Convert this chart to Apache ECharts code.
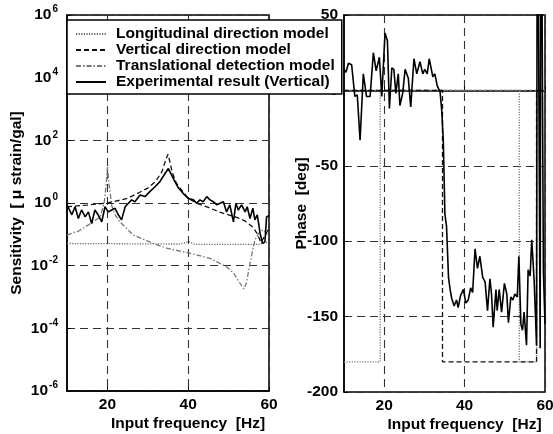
<!DOCTYPE html>
<html>
<head>
<meta charset="utf-8">
<script src="https://cdn.jsdelivr.net/npm/echarts@6/dist/echarts.min.js"></script>
<style>
  html, body { margin: 0; padding: 0; background: #fff; }
  #chart { width: 553px; height: 434px; }
</style>
</head>
<body>
<div id="chart"></div>
<script>
const FONT = '"Liberation Sans", Arial, Helvetica, sans-serif';

// Sensitivity curves: [input frequency (Hz), sensitivity (μstrain/gal)]
const longGain = [[10, 0.051], [38, 0.049], [40.2, 0.059], [41.6, 0.048], [57.5, 0.048], [60, 0.058]];
const vertGain = [[10, 0.76], [15, 0.86], [20, 1.0], [25, 1.4], [28, 2.2], [30, 3.0], [32, 5.0], [33.5, 10],
  [34.5, 25], [35, 36], [35.5, 20], [36, 10], [37, 4.5], [38, 3.0], [40, 1.4], [42, 1.0], [45, 0.72],
  [48, 0.5], [50, 0.42], [52, 0.35], [54, 0.27], [56, 0.17], [57, 0.11], [58, 0.055], [59, 0.09], [60, 0.16]];
const transGain = [[10, 0.095], [13, 0.13], [16.5, 0.25], [18.2, 0.36], [19.2, 1.0], [19.7, 4], [20, 14],
  [20.4, 4], [21.1, 0.8], [22, 0.4], [23.1, 0.25], [26.4, 0.095], [31.4, 0.051], [34.7, 0.036],
  [40.4, 0.025], [45.4, 0.017], [49.5, 0.0093], [51.2, 0.0058], [52.8, 0.0028], [53.8, 0.0018],
  [54.4, 0.0028], [55.3, 0.012], [56.5, 0.066], [57.5, 0.11], [58.6, 0.14], [59.3, 0.11], [60, 0.076]];
const expGain = [[10, 0.87], [11.2, 0.42], [12.0, 0.76], [12.8, 0.32], [13.6, 0.60], [14.5, 0.36],
  [15.3, 0.52], [16.1, 0.22], [16.9, 0.60], [17.7, 0.42], [18.6, 0.25], [19.4, 0.76], [20.2, 0.52],
  [21.1, 0.60], [21.9, 0.68], [22.7, 0.42], [23.5, 0.29], [24.4, 0.76], [25.2, 0.98], [26.0, 1.26],
  [26.8, 1.1], [28.1, 1.8], [29.3, 1.6], [30.5, 2.3], [31.8, 3.3], [33.0, 4.8], [34.3, 8.9], [35.1, 12.6],
  [35.9, 7.8], [36.7, 4.8], [37.6, 3.0], [38.8, 2.0], [40.0, 1.4], [41.3, 1.26], [42.1, 0.98], [42.9, 1.26],
  [43.7, 1.1], [44.6, 1.6], [45.4, 1.26], [46.2, 1.1], [47.1, 0.87], [47.9, 0.98], [48.7, 1.1], [49.5, 0.52],
  [50.3, 0.87], [51.2, 0.25], [51.8, 0.98], [52.4, 0.6], [53.2, 0.87], [54.1, 0.52], [54.6, 0.76],
  [55.3, 0.32], [56.0, 0.68], [56.5, 0.29], [57.1, 0.42], [57.8, 0.107], [58.4, 0.051], [59.0, 0.059],
  [59.4, 0.36], [59.8, 0.32], [60, 0.4]];

// Phase curves: [input frequency (Hz), phase (deg)]
const longPhase = [[10, 0], [60, 0]];
const vertPhase = [[10, 0], [34.5, 0], [34.5, -180], [57.9, -180], [57.9, 0], [60, 0]];
const transPhase = [[10, -180], [19, -180], [19, 0], [53.6, 0], [53.6, -180], [57.9, -180], [57.9, 0], [60, 0]];
const expPhase = [[10, 14], [10.5, 12], [11.1, 18], [11.9, 17], [12.7, -4], [13.3, -3], [14.0, -33],
  [14.8, 11], [15.6, -4], [16.5, -4], [17.3, 25], [18.0, 13], [18.8, 22], [19.4, -4], [20.2, 38],
  [20.8, 33], [21.3, -12], [21.9, 15], [22.4, 14], [22.9, -2], [23.5, 11], [23.9, -10], [24.6, -2],
  [25.2, 14], [26.0, 8], [26.6, -11], [27.4, 21], [28.1, 11], [28.9, 19], [29.6, 11], [30.1, 14],
  [30.7, 11], [31.2, 21], [32.1, 9], [32.6, 11], [33.2, 3], [33.9, -1], [34.3, -13], [34.7, -33],
  [35.1, -82], [35.5, -90], [36.0, -124], [36.4, -132], [36.8, -138], [37.4, -143], [38.0, -139],
  [38.4, -144], [39.0, -136], [39.7, -132], [40.3, -141], [40.9, -139], [41.5, -131], [42.0, -134],
  [42.6, -105], [43.2, -118], [43.8, -110], [44.5, -124], [45.1, -127], [45.7, -146], [46.3, -125],
  [46.7, -135], [47.1, -157], [47.8, -132], [48.1, -146], [48.6, -132], [49.2, -147], [49.9, -128],
  [50.5, -135], [50.9, -154], [51.5, -137], [52.0, -139], [52.5, -135], [53.1, -137], [53.5, -110],
  [54.0, -155], [54.4, -159], [54.8, -147], [55.4, -169], [55.8, -119], [56.3, -123], [56.7, -99],
  [57.3, -126], [57.9, -169], [58.1, 200], [58.3, 200], [58.8, -171], [59.0, 200], [59.2, 200],
  [59.6, -120], [60, -155]];

// Tick positions
const freqTicks = [20, 40, 60];
const gainTicks = [1e-6, 1e-4, 1e-2, 1, 1e2, 1e4, 1e6];

const NAMES = ['Longitudinal direction model', 'Vertical direction model',
  'Translational detection model', 'Experimental result (Vertical)'];

const STYLE = {
  long:  { color: '#666', width: 1.3, type: [1.2, 1.4] },
  vert:  { color: '#111', width: 1.3, type: [5, 3] },
  trans: { color: '#777', width: 1.3, type: [5, 2, 1.5, 2] },
  exp:   { color: '#000', width: 1.6, type: 'solid' }
};

const FS = 15.5;
const bold = { fontFamily: FONT, fontWeight: 'bold', color: '#000' };
const gridDash = { color: '#333', width: 1.1, type: [8, 5] };

function freqAxis(gridIndex) {
  return {
    type: 'value', gridIndex, min: 10, max: 60, interval: 10,
    axisLine: { show: true, lineStyle: { color: '#000', width: 1.5 } },
    axisTick: { inside: true, length: 4, customValues: freqTicks, lineStyle: { color: '#000' } },
    axisLabel: { customValues: freqTicks, fontSize: FS, margin: 6, ...bold },
    splitLine: { show: true, lineStyle: gridDash },
    name: 'Input frequency  [Hz]', nameLocation: 'middle', nameGap: 25, nameMoveOverlap: false,
    nameTextStyle: { fontSize: FS, padding: [0, 0, 0, 40], ...bold }
  };
}

function line(name, data, style, xi, yi, z) {
  return {
    name, type: 'line', data, xAxisIndex: xi, yAxisIndex: yi,
    showSymbol: false, symbol: 'none', lineStyle: style, itemStyle: { color: style.color },
    z, animation: false, clip: true
  };
}

const gridBase = { show: true, borderColor: '#000', borderWidth: 1.5, backgroundColor: 'transparent',
  containLabel: false, outerBoundsMode: 'none' };

const chart = echarts.init(document.getElementById('chart'), null, { renderer: 'canvas' });
chart.setOption({
  backgroundColor: '#fff',
  animation: false,
  grid: [
    { ...gridBase, left: 67, top: 15, width: 202, height: 376 },
    { ...gridBase, left: 344, top: 15, width: 201, height: 377 }
  ],
  xAxis: [freqAxis(0), freqAxis(1)],
  yAxis: [
    {
      type: 'log', gridIndex: 0, logBase: 10, min: 1e-6, max: 1e6, interval: 2,
      axisLine: { show: true, lineStyle: { color: '#000', width: 1.5 } },
      axisTick: { show: true, inside: true, length: 4, customValues: gainTicks, lineStyle: { color: '#000' } },
      minorTick: { show: false },
      splitLine: { show: true, lineStyle: gridDash },
      axisLabel: {
        margin: 9, customValues: gainTicks,
        formatter: v => '{b|10}{s|' + Math.round(Math.log10(v)) + '}',
        rich: {
          b: { fontSize: FS, ...bold },
          s: { fontSize: 10, padding: [0, 0, 11, 1], ...bold }
        }
      },
      name: 'Sensitivity  [ μ strain/gal]', nameLocation: 'middle', nameGap: 42, nameMoveOverlap: false,
      nameTextStyle: { fontSize: FS, ...bold }
    },
    {
      type: 'value', gridIndex: 1, min: -200, max: 50, interval: 50,
      axisLine: { show: true, lineStyle: { color: '#000', width: 1.5 } },
      axisTick: { show: true, inside: true, length: 4, lineStyle: { color: '#000' } },
      splitLine: { show: true, lineStyle: gridDash },
      axisLabel: { fontSize: FS, margin: 6, ...bold },
      name: 'Phase  [deg]', nameLocation: 'middle', nameGap: 34, nameMoveOverlap: false,
      nameTextStyle: { fontSize: FS, ...bold }
    }
  ],
  legend: {
    orient: 'vertical', left: 67, top: 20,
    backgroundColor: '#fff', borderColor: '#000', borderWidth: 1.5, borderRadius: 0,
    padding: [6, 7, 4, 8], itemWidth: 30, itemHeight: 12, itemGap: 0,
    itemStyle: { opacity: 0 },
    textStyle: { fontSize: FS, lineHeight: 15.5, padding: [0, 0, 0, 5], ...bold },
    data: NAMES, selectedMode: false, z: 10
  },
  series: [
    line(NAMES[0], longGain, STYLE.long, 0, 0, 2),
    line(NAMES[1], vertGain, STYLE.vert, 0, 0, 3),
    line(NAMES[2], transGain, STYLE.trans, 0, 0, 2),
    line(NAMES[3], expGain, STYLE.exp, 0, 0, 4),
    line(NAMES[0], longPhase, { ...STYLE.long, type: [3, 2] }, 1, 1, 2),
    line(NAMES[1], vertPhase, STYLE.vert, 1, 1, 3),
    line(NAMES[2], transPhase, { ...STYLE.trans, type: [1.2, 1.4] }, 1, 1, 2),
    line(NAMES[3], expPhase, STYLE.exp, 1, 1, 4)
  ]
});
</script>
</body>
</html>
